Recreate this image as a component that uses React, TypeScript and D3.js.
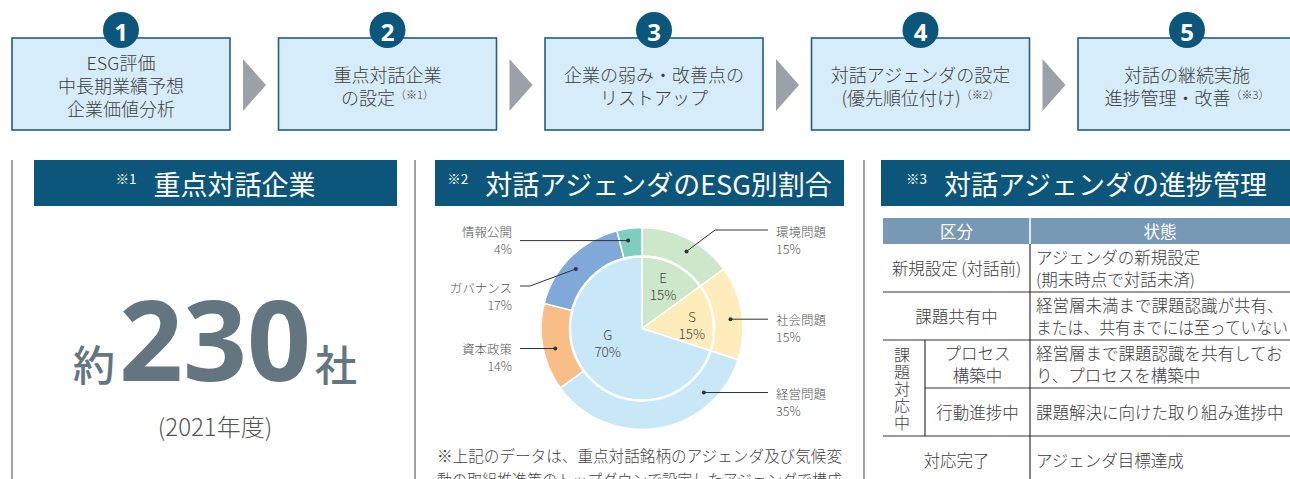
import React from 'react';
import * as d3 from 'd3';

// ---- data ----
const stepNumbers = ['1', '2', '3', '4', '5'];
const stepLines = [
  ['ESG評価', '中長期業績予想', '企業価値分析'],
  ['重点対話企業', 'の設定'],
  ['企業の弱み・改善点の', 'リストアップ'],
  ['対話アジェンダの設定', '(優先順位付け)'],
  ['対話の継続実施', '進捗管理・改善'],
];
const stepNotes = ['', '（※1）', '', '（※2）', '（※3）'];

const headerMarks = ['※1', '※2', '※3'];
const headerTitles = ['重点対話企業', '対話アジェンダのESG別割合', '対話アジェンダの進捗管理'];

const countPrefix = '約';
const countValue = '230';
const countSuffix = '社';
const countYear = '(2021年度)';

const outerLabels = ['環境問題', '社会問題', '経営問題', '資本政策', 'ガバナンス', '情報公開'];
const outerValues = [15, 15, 35, 14, 17, 4];
const outerColors = ['#cde7cb', '#feedba', '#c8e8f8', '#f9be88', '#80a9d9', '#7fcdbf'];

const innerLabels = ['E', 'S', 'G'];
const innerValues = [15, 15, 70];
const innerColors = ['#cde7cb', '#feedba', '#c8e8f8'];

const footnoteLines = [
  '※上記のデータは、重点対話銘柄のアジェンダ及び気候変',
  '動の取組推進等のトップダウンで設定したアジェンダで構成',
];

const tableHeads = ['区分', '状態'];
const tableCats = [['新規設定 (対話前)'], ['課題共有中'], ['プロセス', '構築中'], ['行動進捗中'], ['対応完了']];
const tableGroup = '課題対応中';
const tableStates = [
  ['アジェンダの新規設定', '(期末時点で対話未済)'],
  ['経営層未満まで課題認識が共有、', 'または、共有までには至っていない'],
  ['経営層まで課題認識を共有してお', 'り、プロセスを構築中'],
  ['課題解決に向けた取り組み進捗中'],
  ['アジェンダ目標達成'],
];

// ---- layout ----
const W = 1290;
const H = 479;
const JP = '"Noto Sans CJK JP", "Noto Sans", sans-serif';
const NAVY = '#0c557b';
const TXT = '#3d3d3d';

const App = () => {
  const xStep = d3.scaleBand().domain(stepNumbers).range([12, 1296]).paddingInner(0.182);
  const bw = xStep.bandwidth();

  const panels = [
    [34, 397],
    [435, 844],
    [881, 1292],
  ];

  // pie
  const cx = 642;
  const cy = 328.5;
  const rIn = 72;
  const rOut = 101;
  const pie = d3.pie<number>().sort(null).value((d) => d);
  const outerArcs = pie(outerValues);
  const innerArcs = pie(innerValues);
  const outerArc = d3.arc<d3.PieArcDatum<number>>().innerRadius(rIn).outerRadius(rOut);
  const innerArc = d3.arc<d3.PieArcDatum<number>>().innerRadius(0).outerRadius(rIn);
  const polar = (deg: number, r: number) => {
    const a = (deg * Math.PI) / 180;
    return [cx + r * Math.sin(a), cy - r * Math.cos(a)];
  };
  const dotAngles = [30, 84, 136, 257, 312, 351];
  const labelY = [231, 319, 393, 348, 287, 231];
  const bend = [true, false, false, false, true, false];
  const innerPos = [
    [26, 48],
    [85, 50],
    [248, 37],
  ];

  // table
  const tx0 = 883;
  const txSub = 925;
  const txMid = 1030;
  const txEnd = 1290;
  const tFont = 16.5;
  const stateRoom = 252;
  const yRow = d3.scaleBand<number>().domain(d3.range(tableCats.length)).range([244, 484]);
  const rh = yRow.bandwidth();

  return (
    <svg width={W} height={H} style={{ position: 'fixed', left: 0, top: 0, background: '#fff' }} fontFamily={JP}>
      {/* steps */}
      {stepNumbers.map((n, i) => {
        const x = xStep(n)!;
        const lines = stepLines[i];
        const lh = 23;
        const y0 = 85 - ((lines.length - 1) * lh) / 2;
        return (
          <g key={n}>
            <rect x={x} y={38} width={bw} height={92} fill="#d6ecf8" stroke="#1e5f87" strokeWidth={1.6} />
            <circle cx={x + bw / 2} cy={30} r={18} fill={NAVY} />
            <text x={x + bw / 2} y={31} textAnchor="middle" dominantBaseline="central" fill="#fff" fontSize={24} fontWeight={700} fontFamily="'Noto Sans', sans-serif">
              {n}
            </text>
            {lines.map((l, j) => (
              <text key={j} x={x + bw / 2} y={y0 + j * lh} textAnchor="middle" dominantBaseline="central" fill={TXT} fontSize={18} fontWeight={300}>
                {l}
                {j === lines.length - 1 && stepNotes[i] ? (
                  <tspan fontSize={11} dy={-3}>{stepNotes[i]}</tspan>
                ) : null}
              </text>
            ))}
            {i < stepNumbers.length - 1 ? (
              <path d={`M${x + bw + 13},59 L${x + bw + 36},85 L${x + bw + 13},111 Z`} fill="#9aa1a8" />
            ) : null}
          </g>
        );
      })}

      {/* dividers */}
      {[12, 415, 864].map((x) => (
        <line key={x} x1={x} x2={x} y1={160} y2={H} stroke="#444" strokeWidth={1} />
      ))}

      {/* panel headers */}
      {panels.map(([a, b], i) => (
        <g key={i}>
          <rect x={a} y={160} width={b - a} height={46} fill={NAVY} />
          <text x={(a + b) / 2} y={183} textAnchor="middle" dominantBaseline="central" fill="#fff" fontWeight={400}>
            <tspan fontSize={13.5} dy={-5}>{headerMarks[i]}</tspan>
            <tspan fontSize={27} dx={17} dy={5}>{headerTitles[i]}</tspan>
          </text>
        </g>
      ))}

      {/* panel 1 */}
      <text x={215} y={381} textAnchor="middle" fill="#63767f">
        <tspan fontSize={42} fontWeight={500}>{countPrefix}</tspan>
        <tspan fontSize={112} fontWeight={700} fontFamily="'Noto Sans', sans-serif" dx={4}>{countValue}</tspan>
        <tspan fontSize={42} fontWeight={500} dx={4}>{countSuffix}</tspan>
      </text>
      <text x={215} y={425} textAnchor="middle" dominantBaseline="central" fill="#555" fontSize={24} fontWeight={300}>
        {countYear}
      </text>

      {/* panel 2: pie */}
      <g transform={`translate(${cx},${cy})`}>
        {outerArcs.map((d, i) => (
          <path key={'o' + i} d={outerArc(d)!} fill={outerColors[i]} stroke="#fff" strokeWidth={1.5} />
        ))}
        {innerArcs.map((d, i) => (
          <path key={'in' + i} d={innerArc(d)!} fill={innerColors[i]} stroke="#fff" strokeWidth={1.5} />
        ))}
        <circle r={rIn} fill="none" stroke="#fff" strokeWidth={2.5} />
      </g>
      {innerLabels.map((l, i) => {
        const [px, py] = polar(innerPos[i][0], innerPos[i][1]);
        return (
          <g key={l} fill="#444" fontSize={13.5} fontWeight={300}>
            <text x={px} y={py - 8.5} textAnchor="middle" dominantBaseline="central">{l}</text>
            <text x={px} y={py + 8.5} textAnchor="middle" dominantBaseline="central">{innerValues[i]}%</text>
          </g>
        );
      })}
      {outerLabels.map((l, i) => {
        const right = i < 3;
        const [dx, dy] = polar(dotAngles[i], 89);
        const endX = right ? 768 : 520;
        const textX = right ? 776 : 512;
        const ly = bend[i] ? labelY[i] - 1 : dy;
        const elbowX = right ? 715 : 530;
        const pts = bend[i] ? `M${dx},${dy} L${elbowX},${ly} L${endX},${ly}` : `M${dx},${dy} L${endX},${dy}`;
        return (
          <g key={l}>
            <path d={pts} fill="none" stroke="#333" strokeWidth={1} />
            <circle cx={dx} cy={dy} r={2} fill="#333" />
            <text x={textX} y={labelY[i]} textAnchor={right ? 'start' : 'end'} dominantBaseline="central" fill="#555" fontSize={12.5} fontWeight={300}>
              {l}
            </text>
            <text x={textX} y={labelY[i] + 17} textAnchor={right ? 'start' : 'end'} dominantBaseline="central" fill="#555" fontSize={12.5} fontWeight={300}>
              {outerValues[i]}%
            </text>
          </g>
        );
      })}
      {footnoteLines.map((l, i) => (
        <text key={i} x={437} y={455 + i * 24} dominantBaseline="central" fill="#444" fontSize={15.5} fontWeight={300} textLength={405} lengthAdjust="spacingAndGlyphs">
          {l}
        </text>
      ))}

      {/* panel 3: table */}
      <rect x={tx0} y={218} width={txEnd - tx0} height={26} fill="#7899b6" />
      <line x1={txMid} x2={txMid} y1={218} y2={244} stroke="#fff" strokeWidth={1.5} />
      <text x={(tx0 + txMid) / 2} y={231} textAnchor="middle" dominantBaseline="central" fill="#fff" fontSize={tFont} fontWeight={400}>
        {tableHeads[0]}
      </text>
      <text x={(txMid + txEnd) / 2} y={231} textAnchor="middle" dominantBaseline="central" fill="#fff" fontSize={tFont} fontWeight={400}>
        {tableHeads[1]}
      </text>
      {tableCats.map((c, i) => {
        const y = yRow(i)!;
        const sub = i === 2 || i === 3;
        const ccx = sub ? (txSub + txMid) / 2 : (tx0 + txMid) / 2;
        const lh = 22.5;
        const sl = tableStates[i];
        return (
          <g key={i}>
            {i > 0 ? <line x1={i === 3 ? txSub : tx0} x2={txEnd} y1={y} y2={y} stroke="#333" strokeWidth={1.2} /> : null}
            {c.map((t, j) => (
              <text key={j} x={ccx} y={y + rh / 2 + (j - (c.length - 1) / 2) * lh} textAnchor="middle" dominantBaseline="central" fill={TXT} fontSize={tFont} fontWeight={300}>
                {t}
              </text>
            ))}
            {sl.map((t, j) => {
              const fit = t.length * tFont > stateRoom;
              return (
                <text
                  key={'s' + j}
                  x={1036}
                  y={y + rh / 2 + (j - (sl.length - 1) / 2) * lh}
                  dominantBaseline="central"
                  fill={TXT}
                  fontSize={tFont}
                  fontWeight={300}
                  textLength={fit ? stateRoom : undefined}
                  lengthAdjust={fit ? 'spacingAndGlyphs' : undefined}
                >
                  {t}
                </text>
              );
            })}
          </g>
        );
      })}
      <line x1={txMid} x2={txMid} y1={244} y2={H} stroke="#333" strokeWidth={1.2} />
      <line x1={txSub} x2={txSub} y1={yRow(2)!} y2={yRow(4)!} stroke="#333" strokeWidth={1.2} />
      {tableGroup.split('').map((ch, j) => (
        <text key={j} x={902} y={(yRow(2)! + yRow(4)!) / 2 + (j - 2) * 16.8} textAnchor="middle" dominantBaseline="central" fill={TXT} fontSize={16} fontWeight={300}>
          {ch}
        </text>
      ))}
    </svg>
  );
};

export default App;
